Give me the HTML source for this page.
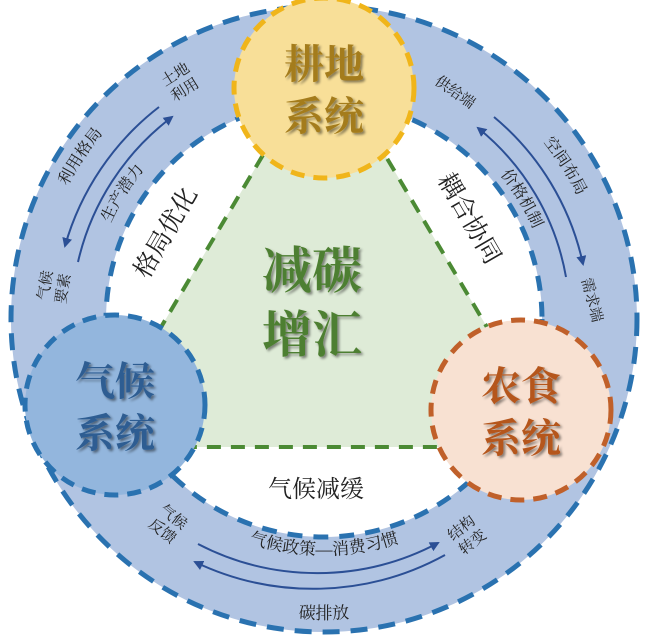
<!DOCTYPE html>
<html><head><meta charset="utf-8"><style>
html,body{margin:0;padding:0;background:#fff;width:650px;height:642px;overflow:hidden}
svg{display:block}
.s{font-family:"Liberation Serif","Noto Serif CJK SC",serif;fill:#222}
.b{font-family:"Liberation Serif","Noto Serif CJK SC",serif;font-weight:bold}
</style></head><body>
<svg width="650" height="642" viewBox="0 0 650 642" xmlns="http://www.w3.org/2000/svg">
<defs>
<filter id="sh" x="-20%" y="-20%" width="140%" height="140%"><feDropShadow dx="2" dy="2" stdDeviation="1.2" flood-color="#000" flood-opacity="0.45"/></filter>
<clipPath id="ic"><circle cx="324" cy="319" r="216"/></clipPath>
<marker id="ar" viewBox="0 0 10 10" refX="8" refY="5" markerWidth="5" markerHeight="5" orient="auto"><path d="M0,0 L10,5 L0,10 z" fill="#2b4f95"/></marker>
<path id="pL1" d="M 38.3 275.3 A 289 289 0 0 1 173.9 72.0"/>
<path id="pL2" d="M 91.8 290.5 A 234 234 0 0 1 196.6 122.7"/>
<path id="pR1" d="M 496.0 95.6 A 282 282 0 0 1 599.4 258.5"/>
<path id="pR2" d="M 466.5 141.1 A 228 228 0 0 1 547.6 274.3"/>
<path id="pB1" d="M 206 523.4 A 236 236 0 0 0 442 523.4"/>
<path id="pB2" d="M 246.4 608.8 A 300 300 0 0 0 401.6 608.8"/>
</defs>
<path d="M 324 6 A 313 313 0 1 1 323.9 6 Z M 324 101 A 218 218 0 1 0 324.1 101 Z" fill="#b1c4e2" fill-rule="evenodd"/>
<circle cx="324" cy="319" r="313" fill="none" stroke="#2a72b0" stroke-width="5" stroke-dasharray="17 11"/>
<circle cx="324" cy="319" r="218" fill="none" stroke="#2a72b0" stroke-width="5" stroke-dasharray="15 11"/>
<g clip-path="url(#ic)">
<polygon points="324,52 90,447 558,447" fill="#deebd7" stroke="#4b8a34" stroke-width="4" stroke-dasharray="14 10"/>
</g>
<path d="M 159 107 A 268 268 0 0 0 65 246" fill="none" stroke="#2b4f95" stroke-width="2" marker-end="url(#ar)"/>
<path d="M 78 262 A 252 252 0 0 1 172 117" fill="none" stroke="#2b4f95" stroke-width="2" marker-end="url(#ar)"/>
<path d="M 494 117 A 264 264 0 0 1 583 264" fill="none" stroke="#2b4f95" stroke-width="2" marker-end="url(#ar)"/>
<path d="M 566 277 A 246 246 0 0 0 478 128" fill="none" stroke="#2b4f95" stroke-width="2" marker-end="url(#ar)"/>
<path d="M 198 544 A 258 258 0 0 0 438 543" fill="none" stroke="#2b4f95" stroke-width="2" marker-end="url(#ar)"/>
<path d="M 445 555 A 274 274 0 0 1 195 562" fill="none" stroke="#2b4f95" stroke-width="2" marker-end="url(#ar)"/>
<text class="s" font-size="16"><textPath href="#pL1" startOffset="50%" text-anchor="middle">利用格局</textPath></text>
<text class="s" font-size="16"><textPath href="#pL2" startOffset="50%" text-anchor="middle">生产潜力</textPath></text>
<text class="s" font-size="16"><textPath href="#pR1" startOffset="50%" text-anchor="middle">空间布局</textPath></text>
<text class="s" font-size="16"><textPath href="#pR2" startOffset="50%" text-anchor="middle">价格机制</textPath></text>
<text class="s" font-size="17"><textPath href="#pB1" startOffset="50%" text-anchor="middle">气候政策—消费习惯</textPath></text>
<text class="s" font-size="17"><textPath href="#pB2" startOffset="50%" text-anchor="middle">碳排放</textPath></text>
<g transform="translate(180,82) rotate(-32)" class="s" font-size="15" text-anchor="middle"><text y="-4">土地</text><text y="14">利用</text></g>
<g transform="translate(455,92) rotate(35)" class="s" font-size="15" text-anchor="middle"><text y="5">供给端</text></g>
<g transform="translate(54,287) rotate(-80)" class="s" font-size="15" text-anchor="middle"><text y="-4">气候</text><text y="14">要素</text></g>
<g transform="translate(592,300) rotate(75)" class="s" font-size="15" text-anchor="middle"><text y="5">需求端</text></g>
<g transform="translate(168,524) rotate(38)" class="s" font-size="15" text-anchor="middle"><text y="-4">气候</text><text y="14">反馈</text></g>
<g transform="translate(467,535) rotate(-38)" class="s" font-size="15" text-anchor="middle"><text y="-4">结构</text><text y="14">转变</text></g>
<text class="s" font-size="25" text-anchor="middle" transform="translate(165,232) rotate(-60)" y="9">格局优化</text>
<text class="s" font-size="25" text-anchor="middle" transform="translate(470,218) rotate(60)" y="9">耦合协同</text>
<text class="s" font-size="24" text-anchor="middle" x="316" y="497">气候减缓</text>
<circle cx="324" cy="88" r="90" fill="#f8df98" stroke="#f0b51a" stroke-width="5" stroke-dasharray="14 9"/>
<circle cx="115" cy="405" r="90" fill="#93b6dd" stroke="#2a72b0" stroke-width="5" stroke-dasharray="14 9"/>
<circle cx="521" cy="410" r="90" fill="#f8e1d2" stroke="#c0602a" stroke-width="5" stroke-dasharray="14 9"/>
<g class="b" font-size="40" text-anchor="middle" filter="url(#sh)">
<text x="324" y="78" fill="#a47c1c">耕地</text><text x="324" y="130" fill="#a47c1c">系统</text>
<text x="115" y="395" fill="#2d5d92">气候</text><text x="115" y="447" fill="#2d5d92">系统</text>
<text x="521" y="400" fill="#b5561e">农食</text><text x="521" y="452" fill="#b5561e">系统</text>
</g>
<g class="b" font-size="50" text-anchor="middle" filter="url(#sh)" fill="#4d7f30">
<text x="312" y="288">减碳</text><text x="312" y="352">增汇</text>
</g>
</svg>
</body></html>
